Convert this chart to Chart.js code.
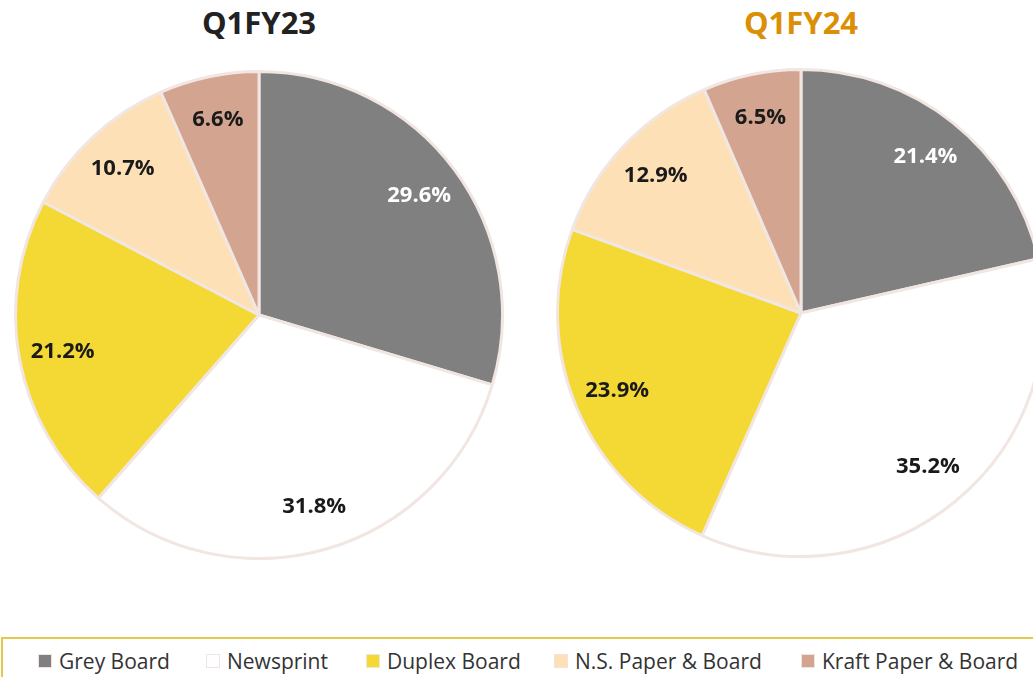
<!DOCTYPE html>
<html>
<head>
<meta charset="utf-8">
<script src="https://cdn.jsdelivr.net/npm/chart.js@4.4.0/dist/chart.umd.min.js"></script>
<style>
  html, body { margin: 0; padding: 0; background: #fff; }
  body { width: 1033px; height: 677px; position: relative; overflow: hidden; font-family: "Open Sans", sans-serif; }
  .title { position: absolute; top: 1px; font-weight: bold; font-size: 31px; text-align: center; width: 300px; }
  .pie { position: absolute; }
  #legend { position: absolute; left: 1px; top: 637px; width: 1100px; height: 60px;
            border-top: 2px solid #e2c84c; border-left: 2px solid #e2c84c; }
  .item { position: absolute; top: 8px; font-size: 21px; color: #333; white-space: nowrap; }
  .item span.sw { display: inline-block; width: 12px; height: 12px; margin-right: 7px; vertical-align: 1px;
                  border: 1px solid #f0e4df; }
</style>
</head>
<body>
<div class="title" style="left:109px;color:#222">Q1FY23</div>
<div class="title" style="left:651px;color:#db8f05">Q1FY24</div>
<div class="pie" style="left:14px;top:70px;width:490px;height:490px"><canvas id="pie23"></canvas></div>
<div class="pie" style="left:556px;top:68px;width:490px;height:490px"><canvas id="pie24"></canvas></div>
<div id="legend"></div>
<script>
// segments, clockwise from 12 o'clock
const categories = ['Grey Board', 'Newsprint', 'Duplex Board', 'N.S. Paper & Board', 'Kraft Paper & Board'];
const shareQ1FY23 = [29.6, 31.8, 21.2, 10.7, 6.6];
const shareQ1FY24 = [21.4, 35.2, 23.9, 12.9, 6.5];
const colors = ['#808080', '#ffffff', '#f4d935', '#fde0b6', '#d3a590'];
const labelColors = ['#ffffff', '#1a1a1a', '#1a1a1a', '#1a1a1a', '#1a1a1a'];
const legendX = [36, 204, 364, 552, 799];

// value labels at ~82% of the radius
const sliceLabels = {
    id: 'sliceLabels',
    afterDatasetsDraw(chart) {
        const ctx = chart.ctx;
        const meta = chart.getDatasetMeta(0);
        const vals = chart.data.datasets[0].data;
        ctx.save();
        ctx.font = 'bold 22px "Open Sans", sans-serif';
        ctx.textAlign = 'center';
        ctx.textBaseline = 'middle';
        meta.data.forEach((arc, i) => {
            const p = arc.getProps(['x', 'y', 'startAngle', 'endAngle', 'outerRadius'], true);
            const mid = (p.startAngle + p.endAngle) / 2;
            const r = p.outerRadius * 0.82;
            ctx.fillStyle = labelColors[i];
            ctx.fillText(vals[i].toFixed(1) + '%', p.x + Math.cos(mid) * r, p.y + Math.sin(mid) * r);
        });
        ctx.restore();
    }
};

function makePie(id, values) {
    return new Chart(document.getElementById(id), {
        type: 'pie',
        data: {
            labels: categories,
            datasets: [{
                data: values,
                backgroundColor: colors,
                borderColor: '#f1e6e2',
                borderWidth: 3,
            }]
        },
        options: {
            responsive: true,
            maintainAspectRatio: false,
            animation: false,
            events: [],
            layout: { padding: 0 },
            plugins: { legend: { display: false }, tooltip: { enabled: false } }
        },
        plugins: [sliceLabels]
    });
}

makePie('pie23', shareQ1FY23);
makePie('pie24', shareQ1FY24);

const legend = document.getElementById('legend');
categories.forEach((c, i) => {
    const d = document.createElement('div');
    d.className = 'item';
    d.style.left = (legendX[i] - 1) + 'px';
    d.innerHTML = '<span class="sw" style="background:' + colors[i] + '"></span>' + c;
    legend.appendChild(d);
});
</script>
</body>
</html>
